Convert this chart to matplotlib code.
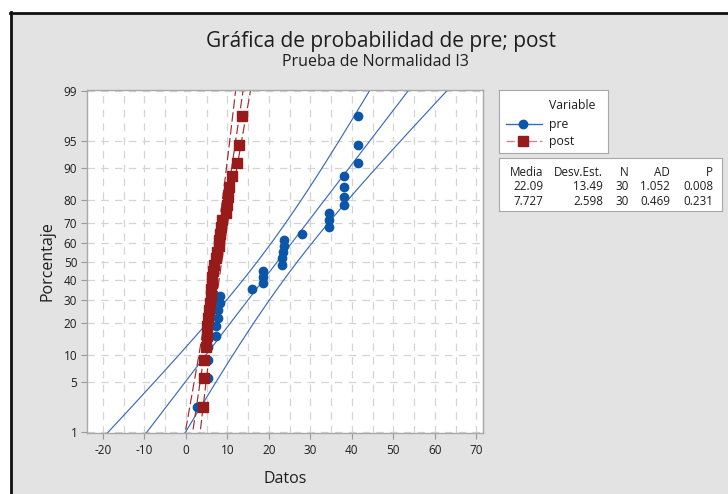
import matplotlib
matplotlib.use("Agg")
import matplotlib.pyplot as plt
import numpy as np
from statistics import NormalDist
from matplotlib.patches import Rectangle
from matplotlib.lines import Line2D

# data (sorted)
pre = [2.7, 5.4, 5.4, 5.4, 7.3, 7.3, 7.8, 7.8, 8.3, 8.3,
       15.9, 18.7, 18.7, 18.7, 23.1, 23.1, 23.4, 23.7, 23.7, 28.0,
       34.6, 34.6, 34.6, 38.0, 38.0, 38.0, 38.0, 41.6, 41.6, 41.6]
post = [4.2, 4.35, 4.35, 4.9, 5.0, 5.2, 5.4, 5.6, 5.8, 6.0,
        6.1, 6.3, 6.4, 6.6, 6.8, 7.2, 7.4, 7.9, 8.1, 8.3,
        8.4, 8.7, 9.7, 9.9, 10.1, 10.3, 11.1, 12.3, 12.7, 13.5]

# summary table
series_names = ["pre", "post"]
media = [22.09, 7.727]
desv = [13.49, 2.598]
n_obs = [30, 30]
ad = ["1.052", "0.469"]
p_val = ["0.008", "0.231"]
media_txt = ["22.09", "7.727"]
desv_txt = ["13.49", "2.598"]

y_ticks = [1, 5, 10, 20, 30, 40, 50, 60, 70, 80, 90, 95, 99]
x_ticks = [-20, -10, 0, 10, 20, 30, 40, 50, 60, 70]

W, H = 728, 494
BG = "#e3e3e3"
BLUE = "#0b56a8"
BLUE_LINE = "#3a6cb8"
RED = "#981b1b"
RED_LINE = "#a8282a"
TXT = "#1e1e1e"

plt.rcParams['font.family'] = ['Open Sans', 'DejaVu Sans']
nd = NormalDist()


def fx(px):
    return px / W


def fy(py):
    return 1 - py / H


fig = plt.figure(figsize=(W / 100, H / 100), dpi=100, facecolor="white")

# grey panel with the dark frame on the left and top
fig.patches.append(Rectangle((fx(10), 0), 1, fy(13), transform=fig.transFigure,
                             facecolor=BG, edgecolor="none", zorder=-10))
fig.lines.append(Line2D([fx(10.5), fx(10.5)], [0, fy(12.5)], transform=fig.transFigure,
                        color="#111111", lw=2, zorder=-5))
fig.lines.append(Line2D([fx(10), 1], [fy(13), fy(13)], transform=fig.transFigure,
                        color="#111111", lw=2, zorder=-5))

# main axes
ax = fig.add_axes([fx(87), fy(433), fx(483) - fx(87), fy(90) - fy(433)])
ax.set_facecolor("white")
ax.set_xlim(-23.8, 71.6)
ax.set_ylim(-2.345, 2.345)

for v in np.arange(-20, 71, 5):
    ax.axvline(v, color="#d4d4d4", lw=0.9, ls=(0, (6, 5)), zorder=0)
for t in y_ticks:
    ax.axhline(nd.inv_cdf(t / 100), color="#d4d4d4", lw=0.9, ls=(0, (6, 5)), zorder=0)

zg = np.linspace(-3, 3, 200)
styles = [dict(color=BLUE_LINE, ls="-"), dict(color=RED_LINE, ls=(0, (8, 3)))]
for k, data in enumerate([pre, post]):
    mu, s, n = media[k], desv[k], n_obs[k]
    fit = mu + s * zg
    half = 1.96 * s * np.sqrt(1 / n + zg ** 2 / (2 * n))
    for line in (fit, fit - half, fit + half):
        ax.plot(line, zg, lw=0.85, zorder=2, **styles[k])

for k, data in enumerate([pre, post]):
    vals = np.sort(np.asarray(data))
    n = len(vals)
    zpos = [nd.inv_cdf((i - 0.3) / (n + 0.4)) for i in range(1, n + 1)]
    if k == 0:
        ax.plot(vals, zpos, "o", ms=6, color=BLUE, mec=BLUE, zorder=3)
    else:
        ax.plot(vals, zpos, "s", ms=7, color=RED, mec=RED, zorder=4)

ax.set_xticks(x_ticks)
ax.set_xticklabels([str(t) for t in x_ticks])
ax.set_yticks([nd.inv_cdf(t / 100) for t in y_ticks])
ax.set_yticklabels([str(t) for t in y_ticks])
ax.tick_params(axis="both", labelsize=8.5, colors="#999999", labelcolor=TXT,
               length=4, width=0.8, pad=3)
ax.tick_params(axis="x", pad=4)
for sp in ax.spines.values():
    sp.set_color("#a8a8a8")
    sp.set_linewidth(1)

ax.set_xlabel("Datos", fontsize=11.5, color=TXT, labelpad=10)
ax.set_ylabel("Porcentaje", fontsize=11.5, color=TXT, labelpad=6)

fig.text(fx(381), fy(42), "Gráfica de probabilidad de pre; post", ha="center", va="center",
         fontsize=15, color=TXT)
fig.text(fx(375), fy(62), "Prueba de Normalidad I3", ha="center", va="center",
         fontsize=11.5, color=TXT)

# legend box
lg = fig.add_axes([fx(499), fy(153), fx(608) - fx(499), fy(90) - fy(153)])
lg.set_xlim(499, 608)
lg.set_ylim(153, 90)
lg.set_xticks([])
lg.set_yticks([])
lg.set_facecolor("white")
for sp in lg.spines.values():
    sp.set_color("#a8a8a8")
lg.text(549, 105, "Variable", fontsize=8.8, color=TXT, va="center", ha="left")
lg.plot([506, 542], [124, 124], color=BLUE_LINE, lw=1)
lg.plot([523], [124], "o", ms=6, color=BLUE)
lg.text(549, 124, series_names[0], fontsize=8.8, color=TXT, va="center", ha="left")
lg.plot([506, 542], [141, 141], color="#c98a8a", lw=1, ls=(0, (6, 2)))
lg.plot([523], [141], "s", ms=7, color=RED)
lg.text(549, 141, series_names[1], fontsize=8.8, color=TXT, va="center", ha="left")

# statistics table
tb = fig.add_axes([fx(499), fy(211), fx(722) - fx(499), fy(158) - fy(211)])
tb.set_xlim(499, 722)
tb.set_ylim(211, 158)
tb.set_xticks([])
tb.set_yticks([])
tb.set_facecolor("white")
for sp in tb.spines.values():
    sp.set_color("#a8a8a8")
cols_x = [543, 603, 629, 670, 713]
headers = ["Media", "Desv.Est.", "N", "AD", "P"]
for cx, h in zip(cols_x, headers):
    tb.text(cx, 172, h, fontsize=8.4, color=TXT, ha="right", va="center")
for r in range(2):
    row = [media_txt[r], desv_txt[r], str(n_obs[r]), ad[r], p_val[r]]
    for cx, v in zip(cols_x, row):
        tb.text(cx, 187 + 14.5 * r, v, fontsize=8.4, color=TXT, ha="right", va="center")

fig.savefig("out.png", dpi=100, facecolor="white")
